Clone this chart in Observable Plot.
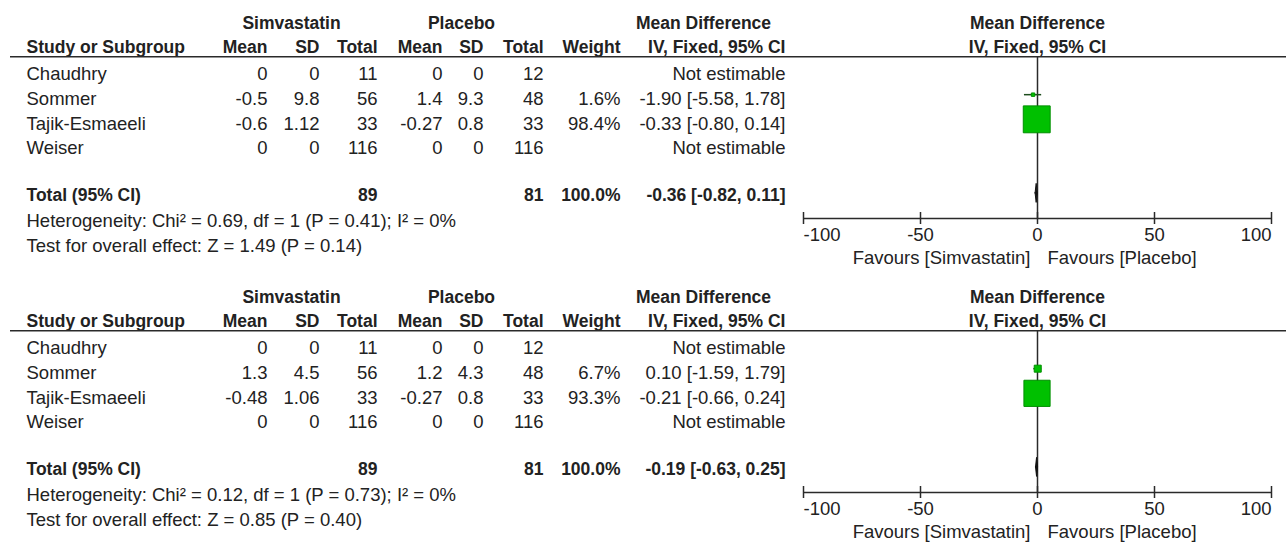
<!DOCTYPE html>
<html>
<head>
<meta charset="utf-8">
<script src="https://cdn.jsdelivr.net/npm/d3@7"></script>
<script src="https://cdn.jsdelivr.net/npm/@observablehq/plot@0.6"></script>
<style>
  body { margin: 0; background: #fff; }
  #chart { position: relative; width: 1286px; height: 542px; overflow: hidden; background: #fff; }
  .panel { position: relative; width: 1286px; }
  .panel svg { position: absolute; left: 0; top: 0; }
</style>
</head>
<body>
<div id="chart"></div>
<script>
// ---------------- DATA ----------------
const studies = ["Chaudhry", "Sommer", "Tajik-Esmaeeli", "Weiser"];
const groupLabels = ["Simvastatin", "Placebo"];
const columnHeaders = ["Study or Subgroup", "Mean", "SD", "Total", "Mean", "SD", "Total", "Weight", "IV, Fixed, 95% CI"];
const effectHeader = ["Mean Difference", "IV, Fixed, 95% CI"];
const totalLabel = "Total (95% CI)";
const simN = [11, 56, 33, 116];
const plaN = [12, 48, 33, 116];

// Analysis A (top)
const simMeanA = [0, -0.5, -0.6, 0];
const simSDA   = [0, 9.8, 1.12, 0];
const plaMeanA = [0, 1.4, -0.27, 0];
const plaSDA   = [0, 9.3, 0.8, 0];
const weightA  = [null, 1.6, 98.4, null];
const mdA      = [null, -1.90, -0.33, null];
const loA      = [null, -5.58, -0.80, null];
const hiA      = [null, 1.78, 0.14, null];

// Analysis B (bottom)
const simMeanB = [0, 1.3, -0.48, 0];
const simSDB   = [0, 4.5, 1.06, 0];
const plaMeanB = [0, 1.2, -0.27, 0];
const plaSDB   = [0, 4.3, 0.8, 0];
const weightB  = [null, 6.7, 93.3, null];
const mdB      = [null, 0.10, -0.21, null];
const loB      = [null, -1.59, -0.66, null];
const hiB      = [null, 1.79, 0.24, null];

// Totals per analysis [A, B]
const totalSimN = [89, 89];
const totalPlaN = [81, 81];
const totalWeight = [100.0, 100.0];
const totalMD = [-0.36, -0.19];
const totalLo = [-0.82, -0.63];
const totalHi = [0.11, 0.25];
const heterogeneity = [
  "Heterogeneity: Chi\u00b2 = 0.69, df = 1 (P = 0.41); I\u00b2 = 0%",
  "Heterogeneity: Chi\u00b2 = 0.12, df = 1 (P = 0.73); I\u00b2 = 0%"
];
const overallEffect = [
  "Test for overall effect: Z = 1.49 (P = 0.14)",
  "Test for overall effect: Z = 0.85 (P = 0.40)"
];
const xTicks = [-100, -50, 0, 50, 100];
const favours = ["Favours [Simvastatin]", "Favours [Placebo]"];

// ---------------- LAYOUT ----------------
const W = 1286;
const panelHeights = [274, 268];
const rowY0 = 74, rowStep = 24.67;          // text centre of row 0 and row spacing
const pos = { group: -2.07, header: -1.09, rule: -0.72, total: 4.9, het: 5.96, test: 6.94 };
const axisPx = 218;
const axisIdx = (axisPx - rowY0) / rowStep;
const tickHalf = 6 / rowStep;
const diamondHalf = 9.5 / rowStep;
const studyX = 26;
const colRight = [null, 267, 319, 377, 442, 483, 543, 620, 785];
const groupCenters = [291, 461];
const effectHeaderCenter = 703;
const forestLeft = 803, forestRight = 1271;
const font = "Liberation Sans, Arial, Helvetica, sans-serif";
const ink = "#222222";
const lineInk = "#2a2a2a";
const regSize = 18.5, boldSize = 17.5;
const green = "#00c000", greenEdge = "#008f00";

function fmt2(v) { return v.toFixed(2); }

function panel(k) {
  const simMean = k ? simMeanB : simMeanA, simSD = k ? simSDB : simSDA;
  const plaMean = k ? plaMeanB : plaMeanA, plaSD = k ? plaSDB : plaSDA;
  const weight = k ? weightB : weightA, md = k ? mdB : mdA, lo = k ? loB : loA, hi = k ? hiB : hiA;
  const H = panelHeights[k];

  const rows = studies.map((s, i) => ({
    study: s, idx: i,
    c1: String(simMean[i]), c2: String(simSD[i]), c3: String(simN[i]),
    c4: String(plaMean[i]), c5: String(plaSD[i]), c6: String(plaN[i]),
    c7: weight[i] == null ? "" : weight[i].toFixed(1) + "%",
    c8: md[i] == null ? "Not estimable" : `${fmt2(md[i])} [${fmt2(lo[i])}, ${fmt2(hi[i])}]`,
    md: md[i], lo: lo[i], hi: hi[i], weight: weight[i]
  }));
  const total = {
    c3: String(totalSimN[k]), c6: String(totalPlaN[k]),
    c7: totalWeight[k].toFixed(1) + "%",
    c8: `${fmt2(totalMD[k])} [${fmt2(totalLo[k])}, ${fmt2(totalHi[k])}]`
  };

  const yScale = { domain: [0, 1], range: [rowY0, rowY0 + rowStep], axis: null };
  const reg = { fontFamily: font, fontSize: regSize, fill: ink };
  const bold = { fontFamily: font, fontSize: boldSize, fontWeight: "bold", fill: ink };

  const colMarks = [];
  for (let c = 1; c <= 8; c++) {
    colMarks.push(Plot.text(rows, { x: colRight[c], y: "idx", text: "c" + c, textAnchor: "end", ...reg }));
  }
  const totalCols = { c3: 3, c6: 6, c7: 7, c8: 8 };
  const totalMarks = Object.keys(totalCols).map(key =>
    Plot.text([total], { x: colRight[totalCols[key]], y: pos.total, text: key, textAnchor: "end", ...bold })
  );

  const table = Plot.plot({
    width: W, height: H,
    margin: 0,
    x: { domain: [0, W], range: [0, W], axis: null },
    y: yScale,
    style: { background: "transparent", overflow: "visible" },
    marks: [
      Plot.text(groupLabels, { x: (d, i) => groupCenters[i], y: pos.group, text: d => d, textAnchor: "middle", ...bold }),
      Plot.text([effectHeader[0]], { x: effectHeaderCenter, y: pos.group, text: d => d, textAnchor: "middle", ...bold }),
      Plot.text([columnHeaders[0]], { x: studyX, y: pos.header, text: d => d, textAnchor: "start", ...bold }),
      Plot.text(columnHeaders.slice(1), { x: (d, i) => colRight[i + 1], y: pos.header, text: d => d, textAnchor: "end", ...bold }),
      Plot.ruleY([pos.rule], { x1: 10, x2: W, stroke: lineInk, strokeWidth: 1.6 }),
      Plot.text(rows, { x: studyX, y: "idx", text: "study", textAnchor: "start", ...reg }),
      ...colMarks,
      Plot.text([totalLabel], { x: studyX, y: pos.total, text: d => d, textAnchor: "start", ...bold }),
      ...totalMarks,
      Plot.text([heterogeneity[k]], { x: studyX, y: pos.het, text: d => d, textAnchor: "start", ...reg }),
      Plot.text([overallEffect[k]], { x: studyX, y: pos.test, text: d => d, textAnchor: "start", ...reg })
    ]
  });

  const est = rows.filter(r => r.md != null);
  const diamond = [
    { x: totalLo[k], y1: pos.total, y2: pos.total },
    { x: totalMD[k], y1: pos.total - diamondHalf, y2: pos.total + diamondHalf },
    { x: totalHi[k], y1: pos.total, y2: pos.total }
  ];

  const forest = Plot.plot({
    width: W, height: H,
    marginLeft: forestLeft, marginRight: W - forestRight,
    marginTop: rowY0 + pos.rule * rowStep, marginBottom: H - axisPx,
    x: { domain: [-100, 100], axis: null },
    y: yScale,
    r: { type: "sqrt", domain: [0, 100], range: [0, 15.3] },
    style: { background: "transparent", overflow: "visible" },
    marks: [
      Plot.ruleX([0], { stroke: lineInk, strokeWidth: 1.5 }),
      Plot.ruleY([axisIdx], { x1: -100, x2: 100, stroke: lineInk, strokeWidth: 1.5 }),
      Plot.ruleX(xTicks, { x: d => d, y1: axisIdx - tickHalf, y2: axisIdx + tickHalf, stroke: lineInk, strokeWidth: 1.5 }),
      Plot.text(xTicks.slice(0, 1), { x: d => d, y: axisIdx, dy: 17, text: d => String(d), textAnchor: "start", ...reg }),
      Plot.text(xTicks.slice(1, -1), { x: d => d, y: axisIdx, dy: 17, text: d => String(d), textAnchor: "middle", ...reg }),
      Plot.text(xTicks.slice(-1), { x: d => d, y: axisIdx, dy: 17, text: d => String(d), textAnchor: "end", ...reg }),
      Plot.text([favours[0]], { x: 0, y: axisIdx, dy: 40, dx: -7, text: d => d, textAnchor: "end", ...reg }),
      Plot.text([favours[1]], { x: 0, y: axisIdx, dy: 40, dx: 10, text: d => d, textAnchor: "start", ...reg }),
      Plot.text([effectHeader[0]], { x: 0, y: pos.group, text: d => d, textAnchor: "middle", ...bold }),
      Plot.text([effectHeader[1]], { x: 0, y: pos.header, text: d => d, textAnchor: "middle", ...bold }),
      Plot.ruleY(est, { x1: "lo", x2: "hi", y: "idx", dy: -4.5, stroke: "#1d4d1d", strokeWidth: 1.5 }),
      Plot.dot(est, { x: "md", y: "idx", r: "weight", symbol: "square", dy: -4.5, fill: green, stroke: greenEdge, strokeWidth: 1 }),
      Plot.areaY(diamond, { x: "x", y1: "y1", y2: "y2", dy: -2, fill: "#111", stroke: "#111", strokeWidth: 1 })
    ]
  });

  const div = document.createElement("div");
  div.className = "panel";
  div.style.height = H + "px";
  div.appendChild(table);
  div.appendChild(forest);
  return div;
}

const chart = document.getElementById("chart");
chart.appendChild(panel(0));
chart.appendChild(panel(1));
</script>
</body>
</html>
